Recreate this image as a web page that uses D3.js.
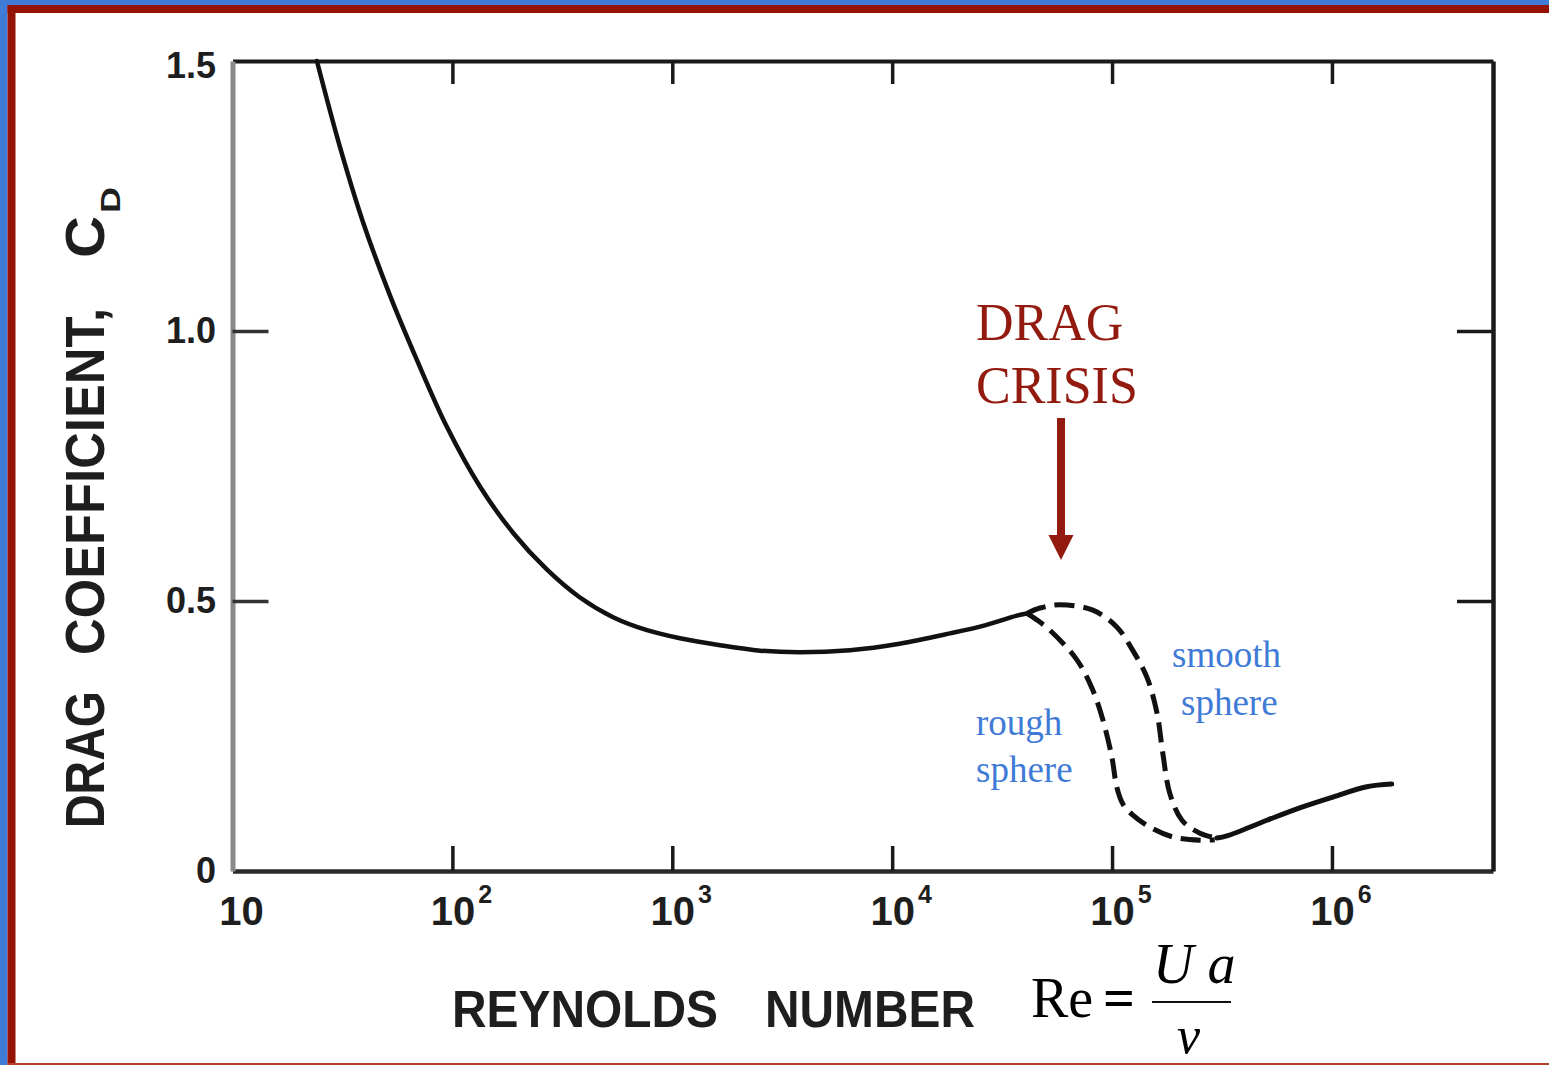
<!DOCTYPE html>
<html>
<head>
<meta charset="utf-8">
<script src="https://cdn.jsdelivr.net/npm/d3@7"></script>
<style>
  body { margin: 0; background: #fff; }
  svg { display: block; }
  .sans { font-family: "Liberation Sans", Arial, Helvetica, sans-serif; font-weight: bold; fill: #1e1e1e; }
  .serif { font-family: "Liberation Serif", "Times New Roman", serif; }
</style>
</head>
<body>
<script>
// values: Reynolds number vs drag coefficient
var reMain = [24.2, 30.8, 39.2, 51.9, 68.7, 94, 133, 189, 268, 379, 538, 767, 1084, 1650, 2510, 3810, 6430, 10800, 18300, 26400, 36900, 41000];
var cdMain = [1.5, 1.341, 1.202, 1.067, 0.948, 0.824, 0.713, 0.626, 0.559, 0.507, 0.470, 0.446, 0.431, 0.418, 0.408, 0.405, 0.409, 0.421, 0.440, 0.455, 0.473, 0.477];

var reRough = [41000, 45500, 52100, 69200, 81700, 90800, 99800, 105000, 112000, 124000, 149000, 189000, 251000, 293000];
var cdRough = [0.477, 0.465, 0.446, 0.391, 0.335, 0.280, 0.211, 0.156, 0.124, 0.104, 0.081, 0.063, 0.057, 0.058];

var reSmooth = [41000, 47000, 57900, 81800, 105000, 124000, 144000, 160000, 170000, 183000, 208000, 251000, 300000];
var cdSmooth = [0.477, 0.487, 0.493, 0.483, 0.452, 0.409, 0.359, 0.293, 0.219, 0.144, 0.094, 0.070, 0.061];

var reHigh = [300000, 333000, 506000, 714000, 1010000, 1440000, 1870000];
var cdHigh = [0.061, 0.065, 0.094, 0.117, 0.137, 0.156, 0.161];

var xTicks = [100, 1000, 10000, 100000, 1000000];
var xLabels = [[10, ""], [100, "2"], [1000, "3"], [10000, "4"], [100000, "5"], [1000000, "6"]];
var yTicks = [0.5, 1.0];
var yLabels = [0, 0.5, 1.0, 1.5];

var width = 1549, height = 1065;

var svg = d3.select("body").append("svg")
  .attr("width", width)
  .attr("height", height);

// frame colours
svg.append("rect").attr("x", 0).attr("y", 0).attr("width", width).attr("height", 5).attr("fill", "#3f7cd7");
svg.append("rect").attr("x", 0).attr("y", 0).attr("width", 7.5).attr("height", height).attr("fill", "#3f7cd7");
svg.append("rect").attr("x", 7.5).attr("y", 5).attr("width", width - 7.5).attr("height", 8).attr("fill", "#941305");
svg.append("rect").attr("x", 7.5).attr("y", 5).attr("width", 8).attr("height", height - 5).attr("fill", "#941305");
svg.append("rect").attr("x", 7.5).attr("y", 1063).attr("width", width - 7.5).attr("height", 2).attr("fill", "#b4402f");

var x = d3.scaleLog().domain([10, 5.4e6]).range([232.5, 1493]);
var y = d3.scaleLinear().domain([0, 1.5]).range([871, 61]);

// axes (ticks point inward)
var gBottom = svg.append("g").attr("transform", "translate(0," + y(0) + ")")
  .call(d3.axisBottom(x).tickValues(xTicks).tickSize(-25).tickSizeOuter(0).tickFormat(""));
var gTop = svg.append("g").attr("transform", "translate(0," + y(1.5) + ")")
  .call(d3.axisTop(x).tickValues(xTicks).tickSize(-23).tickSizeOuter(0).tickFormat(""));
var gLeft = svg.append("g").attr("transform", "translate(" + x(10) + ",0)")
  .call(d3.axisLeft(y).tickValues(yTicks).tickSize(-36).tickSizeOuter(0).tickFormat(""));
var gRight = svg.append("g").attr("transform", "translate(" + x(5.4e6) + ",0)")
  .call(d3.axisRight(y).tickValues(yTicks).tickSize(-36).tickSizeOuter(0).tickFormat(""));

[gBottom, gTop, gLeft, gRight].forEach(function (g) {
  g.selectAll(".tick line").attr("stroke", "#1a1a1a").attr("stroke-width", 3.5);
});
gBottom.select(".domain").attr("stroke", "#2a2a2a").attr("stroke-width", 4.5);
gTop.select(".domain").attr("stroke", "#1a1a1a").attr("stroke-width", 4);
gLeft.select(".domain").attr("stroke", "#8a8a8a").attr("stroke-width", 5);
gRight.select(".domain").attr("stroke", "#1a1a1a").attr("stroke-width", 4.5);
gLeft.selectAll(".tick line").attr("stroke", "#333");

// y tick labels
svg.selectAll(".ylab").data(yLabels).enter().append("text")
  .attr("class", "ylab sans")
  .attr("x", 216)
  .attr("y", function (d) { return y(d) + (d == 1.5 ? 17 : 12); })
  .attr("text-anchor", "end")
  .style("font-size", "36px")
  .text(function (d) { return d == 0 ? "0" : d.toFixed(1); });

// x tick labels, powers of ten
var xl = svg.selectAll(".xlab").data(xLabels).enter().append("text")
  .attr("class", "xlab sans")
  .attr("x", function (d) { return x(d[0]) + 9; })
  .attr("y", 925)
  .attr("text-anchor", "middle")
  .style("font-size", "40px");
xl.append("tspan").text("10");
xl.append("tspan")
  .attr("dy", -22)
  .attr("dx", 3)
  .style("font-size", "25px")
  .text(function (d) { return d[1]; });

// y axis title, rotated
function vtext(txt, xb, yStart, len, size) {
  return svg.append("text").attr("class", "sans")
    .attr("transform", "translate(" + xb + "," + yStart + ") rotate(-90)")
    .attr("textLength", len)
    .attr("lengthAdjust", "spacingAndGlyphs")
    .style("font-size", size + "px")
    .text(txt);
}
vtext("DRAG", 104, 828, 137, 55);
vtext("COEFFICIENT,", 104, 655, 347, 55);
vtext("C", 104, 258, 42, 55);
vtext("D", 120, 213, 26, 28);

// x axis title
svg.append("text").attr("class", "sans")
  .attr("x", 452).attr("y", 1027)
  .attr("textLength", 266).attr("lengthAdjust", "spacingAndGlyphs")
  .style("font-size", "52px").text("REYNOLDS");
svg.append("text").attr("class", "sans")
  .attr("x", 765).attr("y", 1027)
  .attr("textLength", 210).attr("lengthAdjust", "spacingAndGlyphs")
  .style("font-size", "52px").text("NUMBER");

// Re = U a / nu
svg.append("text").attr("class", "serif")
  .attr("x", 1031).attr("y", 1017)
  .style("font-size", "56px").text("Re");
svg.append("text").attr("class", "serif")
  .attr("x", 1103).attr("y", 1017)
  .style("font-size", "56px").style("font-weight", "bold").text("=");
svg.append("text").attr("class", "serif")
  .attr("x", 1153).attr("y", 983)
  .style("font-size", "56px").style("font-style", "italic").text("U a");
svg.append("line")
  .attr("x1", 1152).attr("x2", 1231).attr("y1", 1002).attr("y2", 1002)
  .attr("stroke", "#111").attr("stroke-width", 2.2);
svg.append("text").attr("class", "serif")
  .attr("x", 1177).attr("y", 1053)
  .style("font-size", "52px").style("font-style", "italic").text("ν");

// curves
var line = d3.line()
  .x(function (d) { return x(d[0]); })
  .y(function (d) { return y(d[1]); })
  .curve(d3.curveCatmullRom.alpha(0.5));

function series(re, cd) { return re.map(function (r, i) { return [r, cd[i]]; }); }

svg.append("path").datum(series(reRough, cdRough))
  .attr("d", line).attr("fill", "none")
  .attr("stroke", "#111").attr("stroke-width", 5)
  .attr("stroke-dasharray", "20,9");
svg.append("path").datum(series(reSmooth, cdSmooth))
  .attr("d", line).attr("fill", "none")
  .attr("stroke", "#111").attr("stroke-width", 5)
  .attr("stroke-dasharray", "20,9");
svg.append("path").datum(series(reMain, cdMain))
  .attr("d", line).attr("fill", "none")
  .attr("stroke", "#111").attr("stroke-width", 4.5)
  .attr("stroke-linecap", "round");
svg.append("path").datum(series(reHigh, cdHigh))
  .attr("d", line).attr("fill", "none")
  .attr("stroke", "#111").attr("stroke-width", 5)
  .attr("stroke-linecap", "round");

// annotations
var red = "#921a0e";
svg.append("text").attr("class", "serif").attr("x", 976).attr("y", 340)
  .style("font-size", "52px").attr("fill", red).text("DRAG");
svg.append("text").attr("class", "serif").attr("x", 976).attr("y", 403)
  .style("font-size", "52px").attr("fill", red).text("CRISIS");
svg.append("line")
  .attr("x1", 1061).attr("x2", 1061).attr("y1", 418).attr("y2", 538)
  .attr("stroke", red).attr("stroke-width", 8);
svg.append("path")
  .attr("d", "M1048.5,535 L1073.5,535 L1061,560 Z")
  .attr("fill", red);

var blue = "#3f7bd6";
var notes = [["smooth", 1172, 667], ["sphere", 1181, 715], ["rough", 976, 735], ["sphere", 976, 782]];
svg.selectAll(".note").data(notes).enter().append("text")
  .attr("class", "note serif")
  .attr("x", function (d) { return d[1]; })
  .attr("y", function (d) { return d[2]; })
  .attr("fill", blue)
  .style("font-size", "37px")
  .text(function (d) { return d[0]; });
</script>
</body>
</html>
